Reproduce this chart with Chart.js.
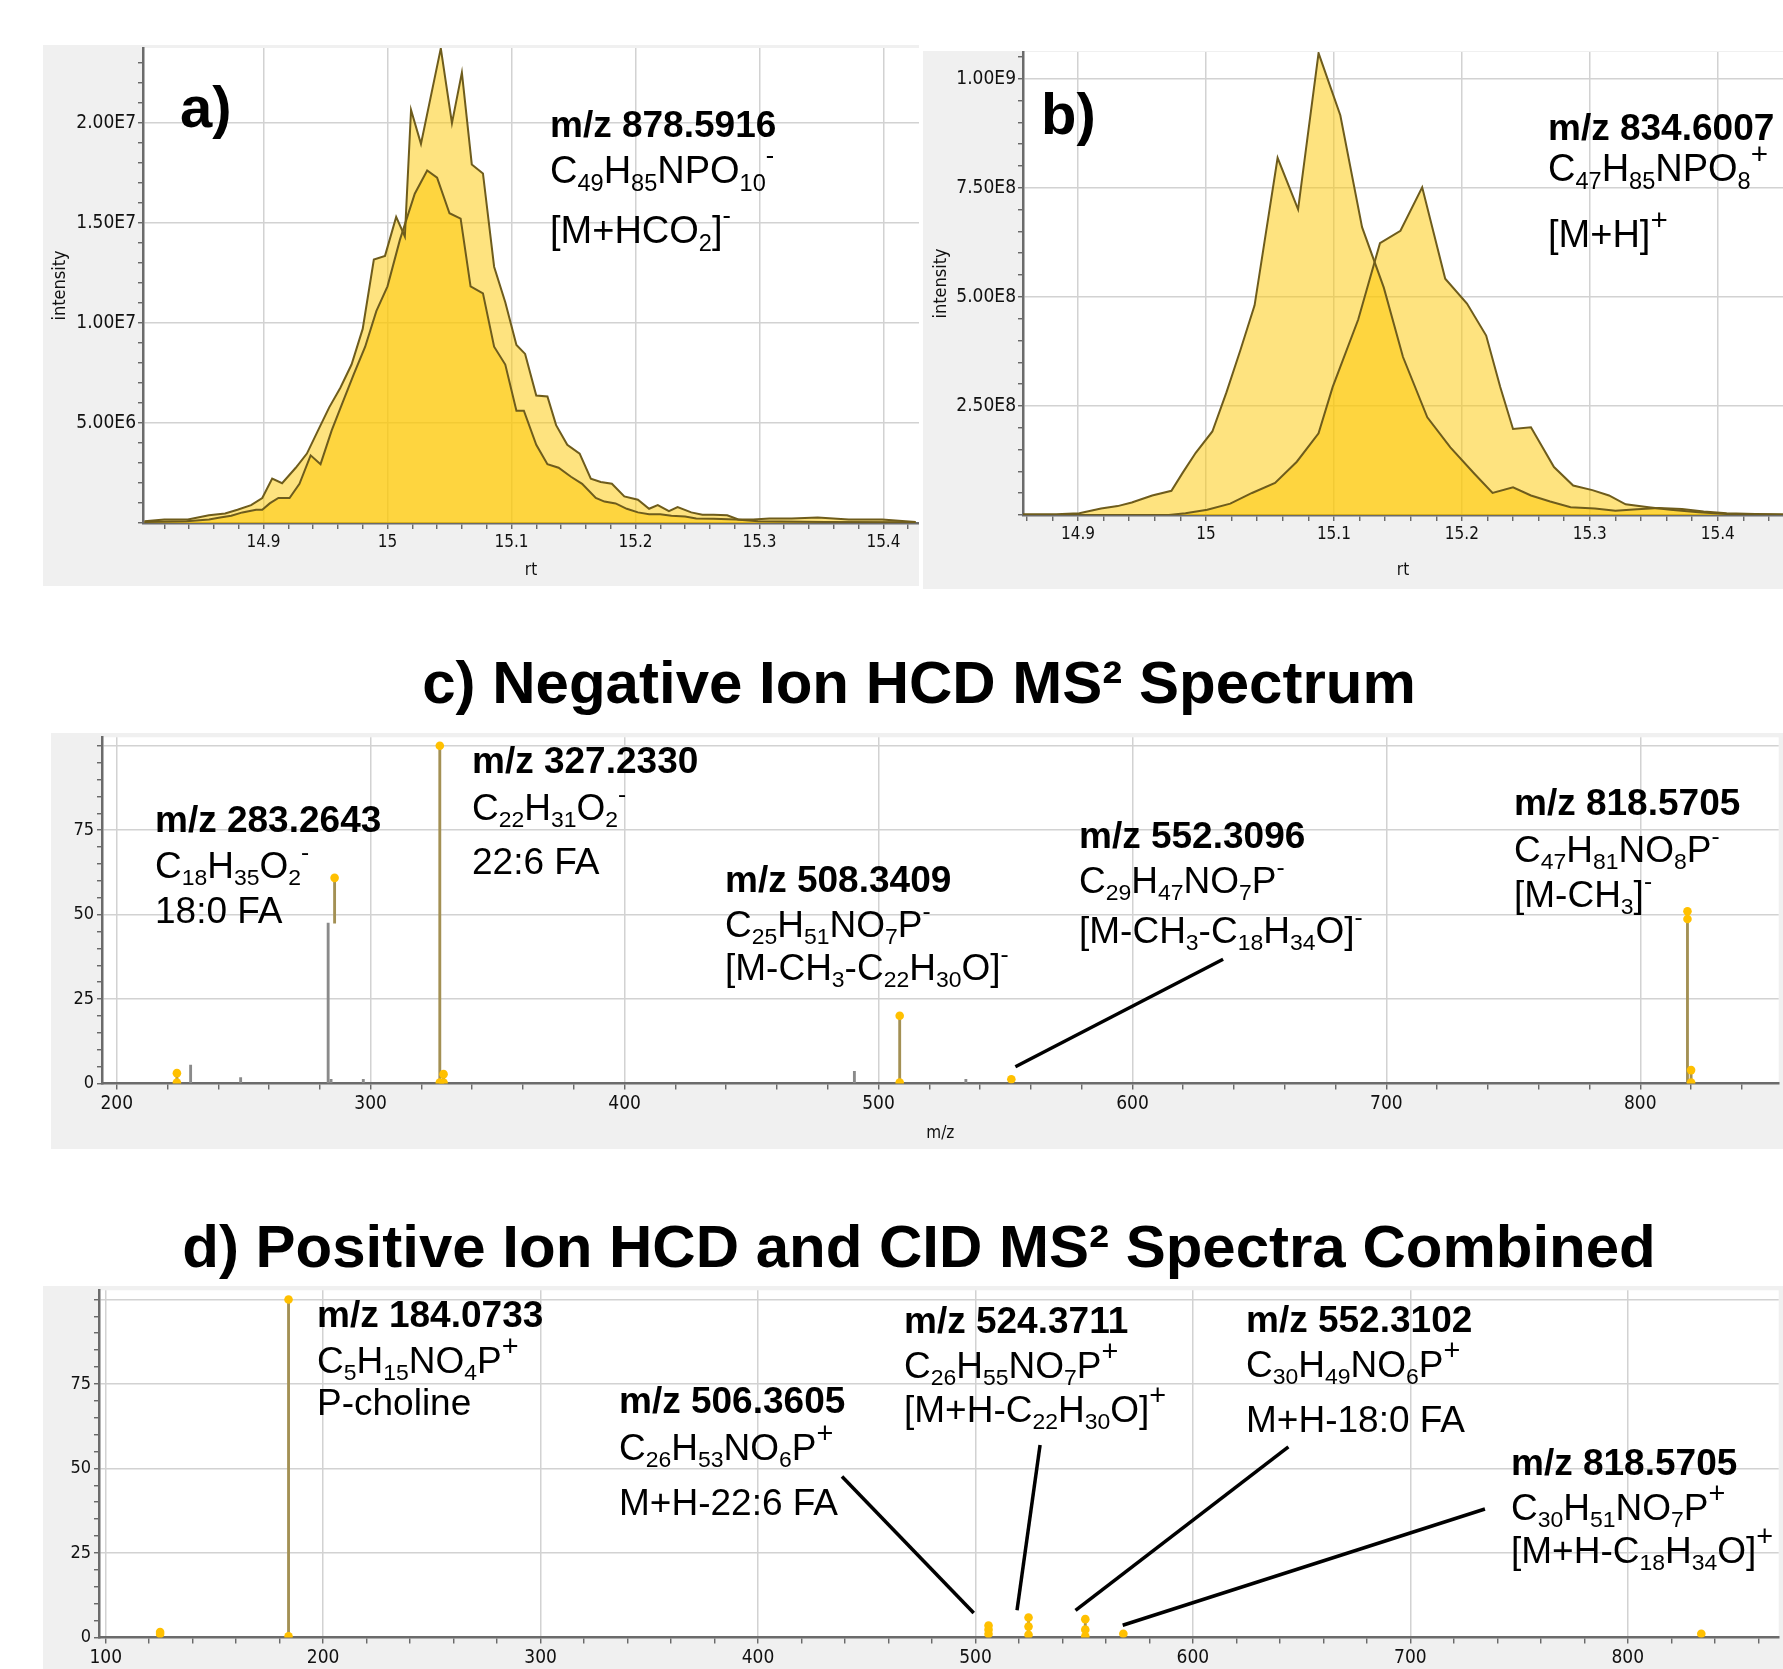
<!DOCTYPE html>
<html><head><meta charset="utf-8">
<script src="https://cdn.jsdelivr.net/npm/chart.js@4.4.1/dist/chart.umd.min.js"></script>
<style>
html,body{margin:0;padding:0;background:#fff;}
body{width:1783px;height:1669px;position:relative;overflow:hidden;}
.panel{position:absolute;background:#f0f0f0;}
.panel canvas{display:block;}
.title{position:absolute;left:0;width:1838px;text-align:center;font-weight:bold;font-size:60px;font-family:"Liberation Sans",Arial,sans-serif;line-height:60px;color:#000;white-space:nowrap;}
</style></head>
<body>
<div class="panel" style="left:43px;top:45px;width:876px;height:541px"><canvas id="ca" width="876" height="541"></canvas></div>
<div class="panel" style="left:923px;top:51px;width:860px;height:538px"><canvas id="cb" width="860" height="538"></canvas></div>
<div class="title" style="top:653px">c) Negative Ion HCD MS² Spectrum</div>
<div class="panel" style="left:51px;top:733px;width:1732px;height:416px"><canvas id="cc" width="1732" height="416"></canvas></div>
<div class="title" style="top:1217px">d) Positive Ion HCD and CID MS² Spectra Combined</div>
<div class="panel" style="left:43px;top:1286px;width:1740px;height:383px"><canvas id="cd" width="1740" height="383"></canvas></div>
<script>
// ---------------- DATA ----------------
// a) extracted ion chromatograms, m/z 878.5916
const rtA1 = [14.804,14.820,14.839,14.856,14.869,14.879,14.890,14.899,14.907,14.915,14.926,14.935,14.944,14.953,14.962,14.971,14.980,14.989,14.998,15.007,15.014,15.019,15.027,15.043,15.052,15.060,15.068,15.077,15.086,15.095,15.104,15.111,15.120,15.129,15.136,15.145,15.155,15.164,15.172,15.181,15.191,15.202,15.211,15.218,15.227,15.234,15.245,15.254,15.263,15.274,15.283,15.295,15.308,15.326,15.347,15.372,15.399,15.426];
const intA1 = [0.09e6,0.18e6,0.18e6,0.39e6,0.48e6,0.66e6,0.89e6,1.25e6,2.22e6,1.99e6,2.76e6,3.47e6,4.63e6,5.78e6,6.76e6,7.92e6,9.70e6,13.17e6,13.35e6,15.30e6,14.32e6,20.64e6,18.95e6,23.72e6,19.98e6,22.51e6,17.92e6,17.47e6,12.81e6,11.03e6,8.90e6,8.45e6,6.37e6,6.32e6,4.89e6,3.91e6,3.47e6,2.22e6,2.05e6,1.96e6,1.33e6,1.16e6,0.71e6,0.89e6,0.59e6,0.80e6,0.53e6,0.41e6,0.41e6,0.39e6,0.18e6,0.18e6,0.23e6,0.23e6,0.27e6,0.18e6,0.18e6,0.05e6];
const rtA2 = [14.804,14.838,14.856,14.865,14.874,14.883,14.894,14.899,14.905,14.912,14.921,14.929,14.938,14.946,14.955,14.964,14.973,14.982,14.991,15.000,15.010,15.022,15.032,15.040,15.050,15.059,15.067,15.077,15.086,15.095,15.104,15.110,15.120,15.129,15.138,15.148,15.157,15.168,15.175,15.184,15.193,15.202,15.211,15.220,15.229,15.240,15.249,15.263,15.281,15.299,15.353,15.426];
const intA2 = [0.05e6,0.09e6,0.18e6,0.27e6,0.36e6,0.53e6,0.66e6,0.66e6,0.98e6,1.25e6,1.25e6,1.96e6,3.38e6,2.94e6,4.63e6,6.05e6,7.47e6,8.81e6,10.59e6,11.83e6,14.15e6,16.46e6,17.62e6,17.26e6,15.48e6,15.21e6,11.83e6,11.48e6,8.81e6,7.92e6,5.61e6,5.61e6,3.91e6,2.94e6,2.76e6,2.31e6,1.96e6,1.25e6,1.07e6,0.98e6,0.71e6,0.53e6,0.44e6,0.44e6,0.36e6,0.32e6,0.23e6,0.21e6,0.18e6,0.09e6,0.05e6,0.04e6];
// b) extracted ion chromatograms, m/z 834.6007
const rtB1 = [14.857,14.883,14.901,14.918,14.931,14.942,14.958,14.973,14.982,14.992,15.005,15.016,15.027,15.038,15.056,15.072,15.088,15.105,15.122,15.139,15.154,15.173,15.191,15.210,15.224,15.240,15.254,15.269,15.285,15.304,15.320,15.337,15.354,15.372,15.389,15.407,15.429,15.455];
const intB1 = [1.6e6,1.6e6,4.1e6,14.7e6,20.4e6,28.5e6,44.8e6,55.4e6,97.7e6,142.5e6,191.4e6,281e6,378.6e6,480.4e6,818.4e6,700.3e6,1058.6e6,916.1e6,659.6e6,521e6,362e6,224e6,155e6,94e6,50.5e6,63.5e6,44.8e6,30.9e6,17.9e6,14.7e6,9.8e6,13e6,16.3e6,13.8e6,8.1e6,4.1e6,2.4e6,1.6e6];
const rtB2 = [14.857,14.971,14.984,15.001,15.019,15.036,15.054,15.071,15.088,15.099,15.119,15.136,15.152,15.169,15.187,15.204,15.219,15.230,15.240,15.254,15.272,15.287,15.302,15.315,15.328,15.346,15.363,15.385,15.407,15.455];
const intB2 = [0,0,4.1e6,12.2e6,26.1e6,50.5e6,73.3e6,122.1e6,187.3e6,293.1e6,447.9e6,622.9e6,651.4e6,750.8e6,541.5e6,484.5e6,411.2e6,293.1e6,197.1e6,201.1e6,109.9e6,67.6e6,57e6,44.8e6,24.4e6,17.9e6,12.2e6,6.5e6,2.4e6,0];
// c) negative ion MS2 spectrum (relative intensity)
const negMz      = [223.7, 327.23, 328.7, 508.34, 552.31, 818.57, 820.0];
const negInt     = [3.1, 100, 2.8, 20.1, 1.3, 51.0, 4.0];
const negShiftMz = [285.8];
const negShiftLo = [47.5];
const negShiftHi = [60.9];
const negGrayMz  = [229.1, 248.8, 283.26, 284.4, 297.1, 490.5, 534.4];
const negGrayInt = [5.5, 1.8, 47.5, 1.3, 1.3, 3.6, 1.3];
const negDotMz   = [223.7, 223.7, 285.8, 327.23, 327.23, 328.7, 328.7, 508.34, 508.34, 552.31, 818.57, 818.57, 820.0, 820.0];
const negDotInt  = [3.1, 0.3, 60.9, 100, 0.3, 2.8, 0.3, 20.1, 0.3, 1.3, 51.0, 48.7, 4.0, 0.3];
const negLeadMz  = [553.9, 635.7];
const negLeadInt = [5.0, 36.8];
// d) positive ion MS2 spectra combined
const posMz     = [125.0, 184.07, 506.0, 524.4, 550.5, 568.0, 833.8];
const posInt    = [1.6, 100, 3.5, 5.9, 5.4, 1.1, 1.1];
const posDotMz  = [125.0, 125.0, 184.07, 184.07, 506.0, 506.0, 506.0, 524.4, 524.4, 524.4, 550.5, 550.5, 550.5, 568.0, 833.8];
const posDotInt = [1.6, 1.0, 100, 0.3, 3.5, 2.3, 1.0, 5.9, 3.2, 0.8, 5.4, 2.3, 0.3, 1.1, 1.1];
const posLead1Mz = [438.6, 499.2], posLead1Int = [47.6, 7.2];
const posLead2Mz = [529.7, 519.1], posLead2Int = [56.9, 8.0];
const posLead3Mz = [643.9, 546.0], posLead3Int = [56.4, 8.0];
const posLead4Mz = [734.3, 567.7], posLead4Int = [38.0, 3.6];
// tick labels / major grid values
const ticksRt     = [14.9, 15, 15.1, 15.2, 15.3, 15.4];
const ticksIntA   = [5e6, 1e7, 1.5e7, 2e7];
const ticksIntB   = [2.5e8, 5e8, 7.5e8, 1e9];
const ticksMzC    = [200, 300, 400, 500, 600, 700, 800];
const ticksMzD    = [100, 200, 300, 400, 500, 600, 700, 800];
const ticksRel    = [0, 25, 50, 75];
const gridRel     = [25, 50, 75, 100];

// ---------------- HELPERS ----------------
const OLIVE_LINE = '#6e5c1c';
const AREA_FILL = 'rgba(253,200,0,0.5)';
const STICK = '#a39054';
const GRAY_STICK = '#8a8a8a';
const DOT = '#ffc000';
const TICKFONT = '"DejaVu Sans Condensed","Liberation Sans",Arial,sans-serif';
const TXTFONT = '"Liberation Sans",Arial,sans-serif';

const pts = (xs, ys) => xs.map((x, i) => ({x, y: ys[i]}));
const isIn = (v, arr) => arr.some(a => Math.abs(a - v) <= 1e-7 * Math.max(1, Math.abs(a)));
const sci = v => v.toExponential(2).replace('e+', 'E');

function parseRich(s) {
  const out = []; let i = 0, buf = '';
  while (i < s.length) {
    const c = s[i];
    if ((c === '_' || c === '^') && s[i + 1] === '{') {
      if (buf) { out.push({t: buf, k: 'n'}); buf = ''; }
      const end = s.indexOf('}', i);
      out.push({t: s.slice(i + 2, end), k: c === '_' ? 'sub' : 'sup'});
      i = end + 1;
    } else { buf += c; i++; }
  }
  if (buf) out.push({t: buf, k: 'n'});
  return out;
}
function drawRich(ctx, x, y, s, size, bold) {
  ctx.save();
  ctx.fillStyle = '#000';
  ctx.textBaseline = 'alphabetic';
  ctx.textAlign = 'left';
  let cx = x;
  for (const seg of parseRich(s)) {
    let fs = size, dy = 0;
    if (seg.k === 'sub') { fs = size * 0.62; dy = size * 0.2; }
    else if (seg.k === 'sup') {
      if (seg.t === '+') { fs = size * 0.78; dy = -size * 0.46; }
      else { fs = size * 0.66; dy = -size * 0.5; }
    }
    ctx.font = (bold ? 'bold ' : '') + fs + 'px ' + TXTFONT;
    ctx.fillText(seg.t, cx, y + dy);
    cx += ctx.measureText(seg.t).width;
  }
  ctx.restore();
}
const textPlugin = items => ({
  id: 'richText',
  afterDraw(chart) { items.forEach(it => drawRich(chart.ctx, it[0], it[1], it[2], it[3], it[4])); }
});
const bgPlugin = {
  id: 'plotBg',
  beforeDraw(chart) {
    const {ctx, chartArea: a} = chart;
    ctx.save(); ctx.fillStyle = '#ffffff';
    ctx.fillRect(a.left, a.top, a.right - a.left, a.bottom - a.top);
    ctx.restore();
  }
};

function axis(o) {
  return {
    type: 'linear', min: o.min, max: o.max, offset: false,
    afterBuildTicks: s => {
      const t = [];
      for (let k = Math.ceil(o.min / o.step - 1e-9); k * o.step <= o.max + 1e-9 * o.step; k++) {
        t.push({value: +(k * o.step).toPrecision(12)});
      }
      s.ticks = t;
    },
    afterFit: s => {
      if (o.w !== undefined) s.width = o.w;
      if (o.h !== undefined) s.height = o.h;
      s.paddingTop = 0; s.paddingBottom = 0; s.paddingLeft = 0; s.paddingRight = 0;
    },
    border: {display: true, color: '#6b6b6b', width: 2.5},
    grid: {
      offset: false,
      color: c => (c.tick && isIn(c.tick.value, o.grid)) ? '#d2d2d2' : 'rgba(0,0,0,0)',
      lineWidth: 1.5, tickColor: '#5a5a5a', tickWidth: 1.3, tickLength: o.tl
    },
    ticks: {
      autoSkip: false, maxRotation: 0, minRotation: 0,
      padding: o.pad, color: '#111', font: {family: TICKFONT, size: o.fs},
      callback: v => isIn(v, o.labels) ? o.fmt(v) : ''
    },
    title: o.title ? {display: true, text: o.title, color: '#111', font: {family: TICKFONT, size: o.tfs || 17}, padding: o.tpad} : {display: false}
  };
}
const common = (pad) => ({
  responsive: false, animation: false, devicePixelRatio: 1, events: [],
  layout: {padding: {top: pad, left: 0, right: 0, bottom: 0}},
  plugins: {legend: {display: false}, tooltip: {enabled: false}, title: {display: false}, filler: {drawTime: 'beforeDatasetsDraw'}}
});
const areaDs = (xs, ys) => ({data: pts(xs, ys), borderColor: OLIVE_LINE, borderWidth: 2, backgroundColor: AREA_FILL, fill: 'origin', pointRadius: 0, tension: 0});
const leadDs = (xs, ys) => ({type: 'line', data: pts(xs, ys), borderColor: '#000', borderWidth: 3.5, pointRadius: 0, fill: false, order: 1});

// ---------------- PANEL a ----------------
new Chart(document.getElementById('ca'), {
  type: 'line',
  data: {datasets: [areaDs(rtA1, intA1), areaDs(rtA2, intA2)]},
  options: Object.assign(common(3), {
    scales: {
      x: axis({min: 14.8028, max: 15.4287, step: 0.02, labels: ticksRt, grid: ticksRt, fmt: v => String(v), fs: 17, tl: 6, pad: 3, h: 63, title: 'rt', tpad: {top: 0, bottom: 5}}),
      y: axis({min: 0, max: 2.374e7, step: 1e6, labels: ticksIntA, grid: ticksIntA, fmt: sci, fs: 19, tl: 5, pad: 2, w: 100, title: 'intensity', tfs: 18, tpad: {top: 7, bottom: 0}})
    }
  }),
  plugins: [bgPlugin, textPlugin([
    [137, 82, 'a)', 58, true],
    [507, 92, 'm/z 878.5916', 37, true],
    [507, 138, 'C_{49}H_{85}NPO_{10}^{-}', 38, false],
    [507, 198, '[M+HCO_{2}]^{-}', 38, false]
  ])]
});

// ---------------- PANEL b ----------------
new Chart(document.getElementById('cb'), {
  type: 'line',
  data: {datasets: [areaDs(rtB1, intB1), areaDs(rtB2, intB2)]},
  options: Object.assign(common(1), {
    scales: {
      x: axis({min: 14.857, max: 15.451, step: 0.02, labels: ticksRt, grid: ticksRt, fmt: v => String(v), fs: 17, tl: 6, pad: 3, h: 74, title: 'rt', tpad: {top: 0, bottom: 8}}),
      y: axis({min: 0, max: 1.061e9, step: 5e7, labels: ticksIntB, grid: ticksIntB, fmt: sci, fs: 19, tl: 5, pad: 2, w: 100, title: 'intensity', tfs: 18, tpad: {top: 8, bottom: 0}})
    }
  }),
  plugins: [bgPlugin, textPlugin([
    [118, 83, 'b)', 58, true],
    [625, 89, 'm/z 834.6007', 37, true],
    [625, 130, 'C_{47}H_{85}NPO_{8}^{+}', 38, false],
    [625, 196, '[M+H]^{+}', 38, false]
  ])]
});

// ---------------- PANEL c ----------------
const negBars = pts(negMz, negInt).map(p => ({x: p.x, y: [0, p.y]}))
  .concat(negShiftMz.map((m, i) => ({x: m, y: [negShiftLo[i], negShiftHi[i]]})))
  .concat(pts(negGrayMz, negGrayInt).map(p => ({x: p.x, y: [0, p.y]})));
const negBarColors = negMz.map(() => STICK).concat(negShiftMz.map(() => STICK)).concat(negGrayMz.map(() => GRAY_STICK));
new Chart(document.getElementById('cc'), {
  type: 'scatter',
  data: {datasets: [
    {type: 'scatter', data: pts(negDotMz, negDotInt), pointRadius: 4.3, backgroundColor: DOT, borderWidth: 0, order: 0},
    leadDs(negLeadMz, negLeadInt),
    {type: 'bar', data: negBars, backgroundColor: negBarColors, borderWidth: 0, barThickness: 2.2, order: 2}
  ]},
  options: Object.assign(common(4), {
    scales: {
      x: axis({min: 194.2, max: 854.5, step: 20, labels: ticksMzC, grid: ticksMzC, fmt: v => String(v), fs: 19, tl: 6, pad: 3, h: 65.4, title: 'm/z', tpad: {top: 0, bottom: 5}}),
      y: axis({min: 0, max: 102.5, step: 5, labels: ticksRel, grid: gridRel, fmt: v => String(v), fs: 18, tl: 5, pad: 3, w: 51})
    }
  }),
  plugins: [bgPlugin, textPlugin([
    [104, 99, 'm/z 283.2643', 37, true],
    [104, 145, 'C_{18}H_{35}O_{2}^{-}', 37, false],
    [104, 190, '18:0 FA', 37, false],
    [421, 40, 'm/z 327.2330', 37, true],
    [421, 87, 'C_{22}H_{31}O_{2}^{-}', 37, false],
    [421, 141, '22:6 FA', 37, false],
    [674, 159, 'm/z 508.3409', 37, true],
    [674, 204, 'C_{25}H_{51}NO_{7}P^{-}', 37, false],
    [674, 247, '[M-CH_{3}-C_{22}H_{30}O]^{-}', 37, false],
    [1028, 115, 'm/z 552.3096', 37, true],
    [1028, 160, 'C_{29}H_{47}NO_{7}P^{-}', 37, false],
    [1028, 210, '[M-CH_{3}-C_{18}H_{34}O]^{-}', 37, false],
    [1463, 82, 'm/z 818.5705', 37, true],
    [1463, 129, 'C_{47}H_{81}NO_{8}P^{-}', 37, false],
    [1463, 174, '[M-CH_{3}]^{-}', 37, false]
  ])]
});

// ---------------- PANEL d ----------------
const posBars = pts(posMz, posInt).map(p => ({x: p.x, y: [0, p.y]}));
new Chart(document.getElementById('cd'), {
  type: 'scatter',
  data: {datasets: [
    {type: 'scatter', data: pts(posDotMz, posDotInt), pointRadius: 4.3, backgroundColor: DOT, borderWidth: 0, order: 0},
    leadDs(posLead1Mz, posLead1Int),
    leadDs(posLead2Mz, posLead2Int),
    leadDs(posLead3Mz, posLead3Int),
    leadDs(posLead4Mz, posLead4Int),
    {type: 'bar', data: posBars, backgroundColor: STICK, borderWidth: 0, barThickness: 2.2, order: 2}
  ]},
  options: Object.assign(common(1), {
    scales: {
      x: axis({min: 96.9, max: 869.4, step: 20, labels: ticksMzD, grid: ticksMzD, fmt: v => String(v), fs: 19, tl: 6, pad: 3, h: 31.6}),
      y: axis({min: 0, max: 102.7, step: 5, labels: ticksRel, grid: gridRel, fmt: v => String(v), fs: 18, tl: 5, pad: 3, w: 56})
    }
  }),
  plugins: [bgPlugin, textPlugin([
    [274, 41, 'm/z 184.0733', 37, true],
    [274, 87, 'C_{5}H_{15}NO_{4}P^{+}', 37, false],
    [274, 129, 'P-choline', 37, false],
    [576, 127, 'm/z 506.3605', 37, true],
    [576, 174, 'C_{26}H_{53}NO_{6}P^{+}', 37, false],
    [576, 229, 'M+H-22:6 FA', 37, false],
    [861, 47, 'm/z 524.3711', 37, true],
    [861, 92, 'C_{26}H_{55}NO_{7}P^{+}', 37, false],
    [861, 136, '[M+H-C_{22}H_{30}O]^{+}', 37, false],
    [1203, 46, 'm/z 552.3102', 37, true],
    [1203, 91, 'C_{30}H_{49}NO_{6}P^{+}', 37, false],
    [1203, 146, 'M+H-18:0 FA', 37, false],
    [1468, 189, 'm/z 818.5705', 37, true],
    [1468, 234, 'C_{30}H_{51}NO_{7}P^{+}', 37, false],
    [1468, 277, '[M+H-C_{18}H_{34}O]^{+}', 37, false]
  ])]
});
</script>
</body></html>
